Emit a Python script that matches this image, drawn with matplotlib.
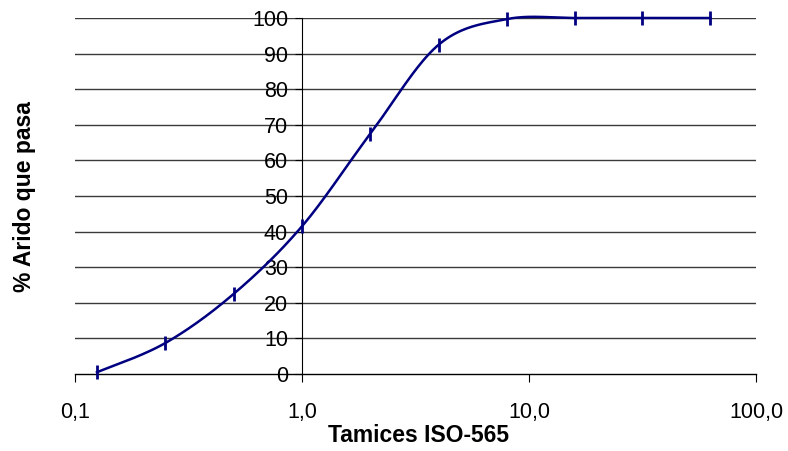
import numpy as np
import matplotlib
matplotlib.use("Agg")
import matplotlib.pyplot as plt

plt.rcParams["font.family"] = ["Liberation Sans", "DejaVu Sans"]

# Sieve openings (mm) and percentage passing
tamices = [0.125, 0.25, 0.5, 1.0, 2.0, 4.0, 8.0, 16.0, 31.5, 63.0]
pasa = [0.5, 8.7, 22.5, 41.5, 67.5, 92.5, 99.7, 100.0, 100.0, 100.0]

x_ticks = [0.1, 1.0, 10.0, 100.0]
x_ticklabels = ["0,1", "1,0", "10,0", "100,0"]
y_ticks = list(range(0, 101, 10))


def smooth_curve(xs, ys, n=40):
    """Catmull-Rom smoothing in (log10 x, y) space, like Excel's smoothed line."""
    lx = np.log10(xs)
    ys = np.asarray(ys, dtype=float)
    px = np.concatenate([[lx[0]], lx, [lx[-1]]])
    py = np.concatenate([[ys[0]], ys, [ys[-1]]])
    out_x, out_y = [], []
    t = np.linspace(0, 1, n)
    for i in range(1, len(px) - 2):
        p0, p1, p2, p3 = [np.array([px[j], py[j]]) for j in (i - 1, i, i + 1, i + 2)]
        c1 = p1 + (p2 - p0) / 6
        c2 = p2 - (p3 - p1) / 6
        pts = (np.outer((1 - t) ** 3, p1) + np.outer(3 * (1 - t) ** 2 * t, c1)
               + np.outer(3 * (1 - t) * t ** 2, c2) + np.outer(t ** 3, p2))
        out_x.extend(pts[:, 0])
        out_y.extend(pts[:, 1])
    return 10 ** np.array(out_x), np.array(out_y)


fig = plt.figure(figsize=(7.88, 4.51), dpi=100)
ax = fig.add_axes([75 / 788, 1 - 374 / 451, (756 - 75) / 788, (374 - 18) / 451])

ax.set_xscale("log")
ax.set_xlim(0.1, 100)
ax.set_ylim(0, 100)

# horizontal gridlines
for yv in y_ticks[1:]:
    ax.axhline(yv, color="#3a3a3a", lw=1.0, zorder=1)

sx, sy = smooth_curve(tamices, pasa)
ax.plot(sx, sy, color="#000080", lw=1.8, zorder=3, clip_on=False)
ax.plot(tamices, pasa, ls="none", marker="|", markersize=10, markeredgewidth=2.0,
        color="#000080", zorder=4, clip_on=False)

# y axis sits at x = 1.0
ax.spines["left"].set_position(("data", 1.0))
ax.spines["left"].set_color("black")
ax.spines["left"].set_linewidth(0.8)
ax.spines["top"].set_visible(False)
ax.spines["right"].set_visible(False)
ax.spines["bottom"].set_color("black")
ax.spines["bottom"].set_linewidth(1.0)

ax.set_yticks(y_ticks)
ax.set_yticklabels([str(v) for v in y_ticks])
ax.set_xticks(x_ticks)
ax.set_xticklabels(x_ticklabels)
ax.xaxis.set_minor_locator(matplotlib.ticker.NullLocator())
ax.tick_params(axis="y", direction="out", length=5, width=0.8, pad=5, labelsize=15.5)
ax.tick_params(axis="x", direction="out", length=6, width=0.8, pad=14, labelsize=15.5)

fig.text(418 / 788, 1 - 436 / 451, "Tamices ISO-565", ha="center", va="center",
         fontsize=16.5, fontweight="bold")
fig.text(25 / 788, 1 - 197 / 451, "% Arido que pasa", ha="center", va="center",
         rotation=90, fontsize=16.5, fontweight="bold")

fig.savefig("out.png", dpi=100)
